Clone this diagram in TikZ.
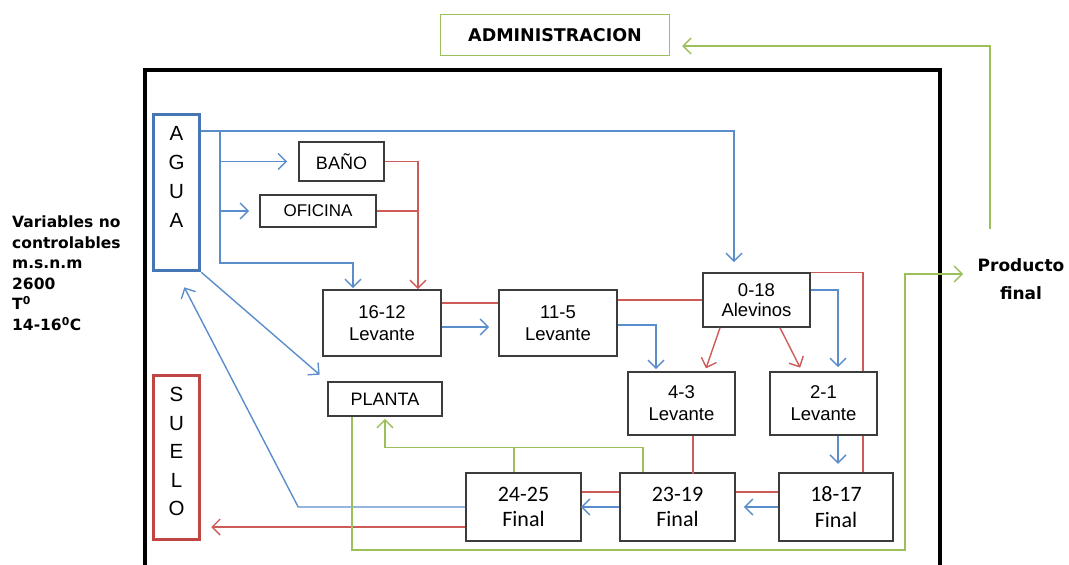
\documentclass[tikz,border=0pt]{standalone}
\usepackage{fontspec}
\setmainfont{Liberation Sans}
\newfontfamily\dvfont{DejaVu Sans}
\newfontfamily\clfont{Carlito}
\usepackage{tikz}
\usetikzlibrary{arrows.meta, positioning, backgrounds}
\definecolor{waterblue}{RGB}{92,141,203}
\definecolor{wastered}{RGB}{205,92,88}
\definecolor{prodgreen}{RGB}{155,192,90}
\definecolor{boxborder}{RGB}{60,60,60}
\definecolor{aguablue}{RGB}{70,118,180}
\definecolor{suelored}{RGB}{192,70,68}
\tikzset{
  stagebox/.style={rectangle, draw=boxborder, line width=1.6pt, fill=white,
                   minimum width=107pt, minimum height=63pt, align=center,
                   font=\fontsize{18.5}{22}\selectfont},
  finalbox/.style={rectangle, draw=boxborder, line width=1.6pt, fill=white,
                   minimum width=115pt, minimum height=68pt, align=center,
                   font=\clfont\fontsize{22}{25.5}\selectfont},
  unitbox/.style={rectangle, draw=boxborder, line width=1.6pt, fill=white,
                  font=\fontsize{18}{20}\selectfont},
  sidebox/.style={rectangle, draw=#1, line width=3.5pt, fill=white,
                  minimum width=46pt},
  sideletters/.style={align=center, font=\fontsize{20.5}{29}\selectfont},
  titlebox/.style={rectangle, draw=prodgreen, line width=1.3pt,
                   minimum width=229pt, minimum height=41pt,
                   font=\dvfont\bfseries\fontsize{17.5}{20}\selectfont},
  outtext/.style={align=center, font=\dvfont\bfseries\fontsize{17}{28}\selectfont},
  notetext/.style={align=left, inner sep=0pt,
                   font=\dvfont\bfseries\fontsize{15.5}{20.5}\selectfont},
  water/.style={-{Straight Barb[length=8pt,width=16pt]}, line width=1.4pt, color=waterblue},
  waste/.style={-{Straight Barb[length=8pt,width=16pt]}, line width=1.4pt, color=wastered},
  product/.style={-{Straight Barb[length=8pt,width=16pt]}, line width=1.4pt, color=prodgreen},
  wasteline/.style={line width=1.4pt, color=wastered},
  productline/.style={line width=1.4pt, color=prodgreen},
}
\begin{document}
\begin{tikzpicture}[x=1pt, y=-1pt]
  \useasboundingbox (0,0) rectangle (1069,565);
  % frame of the farm
  \draw[line width=3.5pt] (145,570) |- (940,70) -- (940,570);

  % boxes
  \node[titlebox] (admin) at (555,35) {ADMINISTRACION};
  \node[sidebox=aguablue, minimum height=156pt] (agua) at (176.5,192.5) {};
  \node[sideletters, below=10pt of agua.north] {A\\G\\U\\A};
  \node[sidebox=suelored, minimum height=164pt] (suelo) at (176.5,457.5) {};
  \node[sideletters, below=10pt of suelo.north,
        font=\fontsize{20.5}{28.5}\selectfont] {S\\U\\E\\L\\O};
  \node[unitbox, minimum width=85pt, minimum height=39pt] (bano) at (341.5,161.5) {BAÑO};
  \node[unitbox, minimum width=116pt, minimum height=32pt,
        font=\fontsize{17}{20}\selectfont] (oficina) at (318,211) {OFICINA};
  \node[unitbox, minimum width=114pt, minimum height=34pt] (planta) at (385,399) {PLANTA};
  \node[stagebox, minimum width=118pt, minimum height=66pt] (l1612) at (382,323) {16-12\\Levante};
  \node[stagebox, minimum width=118pt, minimum height=66pt] (l115) at (558,323) {11-5\\Levante};
  \node[stagebox, minimum height=54pt, font=\fontsize{18.5}{20}\selectfont] (a018) at (756.5,300) {0-18\\Alevinos};
  \node[stagebox] (l43) at (681.5,403.5) {4-3\\Levante};
  \node[stagebox] (l21) at (823.5,403.5) {2-1\\Levante};
  \node[finalbox] (f2425) at (523.5,507) {24-25\\Final};
  \node[finalbox] (f2319) at (677.5,507) {23-19\\Final};
  \node[finalbox, minimum width=114pt] (f1817) at (836,507) {18-17\\Final};
  \node[outtext] (prod) at (1021,279) {Producto\\final};
  \node[notetext, anchor=north west] (vars) at (12,216)
    {Variables no\\controlables\\m.s.n.m\\2600\\T\textsuperscript{0}\\14-16\textsuperscript{0}C};

  % water lines
  \coordinate (trunk) at (220,131);
  \draw[water, shorten >=10pt] (agua.east |- trunk) -| ([xshift=-22.5pt]a018.north);
  \draw[water, shorten >=1pt] (trunk) -- ++(0,132) -| ([xshift=-29pt]l1612.north);
  \draw[water, shorten >=11pt] (trunk |- bano.west) -- (bano.west);
  \draw[water, shorten >=10pt] (trunk |- oficina.west) -- (oficina.west);
  \draw[water, shorten >=10pt] (agua.south east) -- (planta.north west);
  \draw[water, shorten >=17pt] (f2425.west) -- ++(-167,0) -- (agua.south);
  \draw[water, shorten >=9pt] ([yshift=-4pt]l1612.east) -- ([yshift=-4pt]l115.west);
  \draw[water, shorten >=2pt] ([yshift=-2pt]l115.east) -| ([xshift=-25.5pt]l43.north);
  \draw[water, shorten >=4pt] ([yshift=10pt]a018.east) -| ([xshift=14.5pt]l21.north);
  \draw[water, shorten >=10pt] ([xshift=14.5pt]l21.south) -- ++(0,38);
  \draw[water, shorten >=8pt] (f1817.west) -- (f2319.east);
  \draw[water, shorten >=-1pt] (f2319.west) -- (f2425.east);

  % waste lines
  \coordinate (drain) at ([xshift=36pt]l1612.north);
  \draw[waste] (bano.east) -| (drain);
  \draw[wasteline] (oficina.east) -- (oficina.east -| drain);
  \draw[wasteline] ([yshift=20pt]l1612.east) -- ([yshift=20pt]l115.west);
  \draw[wasteline] (l115.east |- a018.west) -- (a018.west);
  \draw[waste, shorten >=3pt] ([xshift=-36.5pt]a018.south) -- ([xshift=23.5pt]l43.north);
  \draw[waste, shorten >=4pt] ([xshift=23.5pt]a018.south) -- ([xshift=-21.5pt]l21.north);
  \begin{scope}[on background layer]
    \draw[wasteline] (a018.north east) -| ([xshift=27pt]f1817.north);
  \end{scope}
  \draw[wasteline] ([xshift=11.5pt]l43.south) -- ++(0,38);
  \draw[wasteline] ([yshift=15pt]f2319.east) -- ([yshift=15pt]f1817.west);
  \draw[wasteline] ([yshift=15pt]f2425.east) -- ([yshift=15pt]f2319.west);
  \coordinate (spill) at ([yshift=-20pt]f2425.west);
  \draw[waste, shorten >=10pt] (spill) -- (spill -| suelo.east);

  % product lines
  \coordinate (gturn) at (905,550);
  \draw[product, shorten >=11pt] ([xshift=-33pt]planta.south) |- (gturn) |- ([yshift=5pt]prod.west);
  \draw[product, shorten >=2pt] ([xshift=-34.5pt]f2319.north) -- ++(0,-25) -| (planta.south);
  \draw[productline] ([xshift=-9.5pt]f2425.north) -- ++(0,-25);
  \draw[product, shorten >=12pt] ([xshift=-31pt, yshift=26pt]prod.north) |- ([yshift=-11pt]admin.east);
\end{tikzpicture}
\end{document}
